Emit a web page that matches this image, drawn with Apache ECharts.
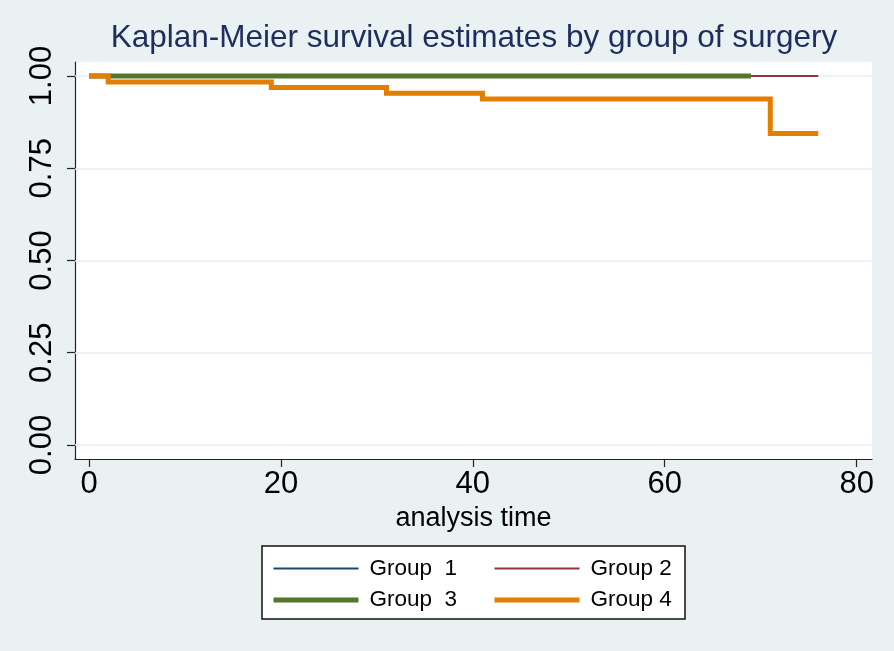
<!DOCTYPE html>
<html>
<head>
<meta charset="utf-8">
<script src="https://cdn.jsdelivr.net/npm/echarts@6/dist/echarts.min.js"></script>
<style>
  html, body { margin: 0; padding: 0; background: #e9f1f2; }
  #chart { width: 894px; height: 651px; }
</style>
</head>
<body>
<div id="chart"></div>
<script>
// ---- data ----
const TITLE = 'Kaplan-Meier survival estimates by group of surgery';
const X_NAME = 'analysis time';
const X_TICKS = [0, 20, 40, 60, 80];
const Y_TICKS = [0, 0.25, 0.5, 0.75, 1];
const GROUP_NAMES = ['Group  1', 'Group 2', 'Group  3', 'Group 4'];
// [analysis time, survival]
const group1 = [[0, 1], [60, 1]];
const group2 = [[0, 1], [76, 1]];
const group3 = [[0, 1], [69, 1]];
const group4 = [[0, 1], [2, 0.984], [19, 0.969], [31, 0.953], [41, 0.938], [71, 0.844], [76, 0.844]];

const COLORS = ['#1a476f', '#90353b', '#55752f', '#e37e00'];
const WIDTHS = [2, 2, 5, 5];
const FONT = '"Liberation Sans", Arial, Helvetica, sans-serif';

const chart = echarts.init(document.getElementById('chart'), null, { renderer: 'canvas' });

const seriesData = [group1, group2, group3, group4];
const series = seriesData.map((d, i) => ({
  name: GROUP_NAMES[i],
  type: 'line',
  step: 'end',
  data: d,
  symbol: 'none',
  showSymbol: false,
  animation: false,
  silent: true,
  z: 3 + i,
  lineStyle: { color: COLORS[i], width: WIDTHS[i], cap: 'butt', join: 'miter' },
  itemStyle: { color: COLORS[i] },
  markLine: i === 0 ? {
    silent: true,
    symbol: ['none', 'none'],
    label: { show: false },
    animation: false,
    z: 1,
    lineStyle: { color: '#e6eef0', width: 1.5, type: 'solid' },
    data: Y_TICKS.map(v => ({ yAxis: v }))
  } : undefined
}));

const legendCommon = {
  orient: 'vertical', top: 557, padding: 0, itemGap: 8.5,
  itemWidth: 85, itemHeight: 14,
  lineStyle: { width: 'inherit' },
  itemStyle: { opacity: 0 },
  selectedMode: false,
  textStyle: { fontFamily: FONT, fontSize: 22.5, color: '#000', lineHeight: 22, padding: [0, 0, 0, 6] }
};

const option = {
  backgroundColor: '#e9f1f2',
  animation: false,
  title: {
    text: TITLE,
    left: 474,
    top: 23,
    padding: 0,
    textAlign: 'center',
    textStyle: { fontFamily: FONT, fontSize: 31.5, fontWeight: 'normal', color: '#1d2e5e', lineHeight: 31 }
  },
  grid: {
    left: 75, right: 22, top: 62, bottom: 192,
    show: true, backgroundColor: '#ffffff', borderWidth: 0,
    containLabel: false, outerBoundsMode: 'none'
  },
  xAxis: {
    type: 'value',
    min: -1.46, max: 81.6,
    name: X_NAME,
    nameLocation: 'middle',
    nameGap: 45,
    nameTextStyle: { fontFamily: FONT, fontSize: 27, color: '#000', lineHeight: 27 },
    axisLine: { show: true, onZero: false, lineStyle: { color: '#222', width: 1.2 } },
    axisTick: { show: true, inside: false, length: 8, customValues: X_TICKS, lineStyle: { color: '#222', width: 1.2 } },
    axisLabel: { customValues: X_TICKS, fontFamily: FONT, fontSize: 31, color: '#000', margin: 10, lineHeight: 31 },
    splitLine: { show: false }
  },
  yAxis: {
    type: 'value',
    min: -0.038, max: 1.038,
    axisLine: { show: true, onZero: false, lineStyle: { color: '#222', width: 1.2 } },
    axisTick: { show: true, inside: false, length: 8, customValues: Y_TICKS, lineStyle: { color: '#222', width: 1.2 } },
    axisLabel: {
      customValues: Y_TICKS, rotate: 90, fontFamily: FONT, fontSize: 31, color: '#000', margin: 17, lineHeight: 31,
      formatter: v => v.toFixed(2)
    },
    splitLine: { show: false }
  },
  legend: [
    Object.assign({}, legendCommon, { data: [GROUP_NAMES[0], GROUP_NAMES[2]], left: 271 }),
    Object.assign({}, legendCommon, { data: [GROUP_NAMES[1], GROUP_NAMES[3]], left: 492 })
  ],
  graphic: [
    {
      type: 'rect', z: 0, silent: true,
      shape: { x: 262, y: 546, width: 423, height: 73 },
      style: { fill: '#ffffff', stroke: '#111', lineWidth: 1.5 }
    }
  ],
  series: series
};

chart.setOption(option);
</script>
</body>
</html>
